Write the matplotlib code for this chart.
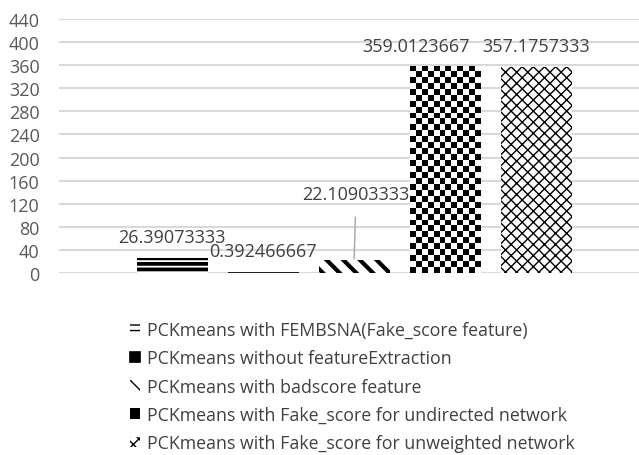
import matplotlib
matplotlib.use("Agg")
import matplotlib.pyplot as plt
import numpy as np

# Chart data
LABELS = [
    "PCKmeans with FEMBSNA(Fake_score feature)",
    "PCKmeans without featureExtraction",
    "PCKmeans with badscore feature",
    "PCKmeans with Fake_score for undirected network",
    "PCKmeans with Fake_score for unweighted network",
]
VALUES = [26.39073333, 0.392466667, 22.10903333, 359.0123667, 357.1757333]
VALUE_TEXT = ["26.39073333", "0.392466667", "22.10903333", "359.0123667", "357.1757333"]
Y_TICKS = [0, 40, 80, 120, 160, 200, 240, 280, 320, 360, 400, 440]

# Style
HATCHES = ["---", "", "\\\\", "", "xxx"]
HATCH_LW = [2.7, 1.0, 3.0, 1.0, 1.0]
LABEL_OFFSETS = [(0, 21), (0, 22), (2, 66), (-29, 20), (0, 21)]

plt.rcParams["font.family"] = ["Open Sans", "DejaVu Sans"]

fig = plt.figure(figsize=(6.39, 4.56), dpi=100)
ax = fig.add_axes([59 / 639, 182 / 456, 580 / 639, 254 / 456])

x = np.arange(len(VALUES))
bars = []
for i, v in enumerate(VALUES):
    fc = "black" if i == 1 else "white"
    b = ax.bar(x[i], v, width=0.78, color=fc, edgecolor="black",
               linewidth=1.2 if i == 1 else 0,
               hatch=HATCHES[i] or None, label=LABELS[i], zorder=3)[0]
    if hasattr(b, "set_hatch_linewidth"):
        b.set_hatch_linewidth(HATCH_LW[i])
    bars.append(b)

ax.set_xlim(-1.242, 5.13)
ax.set_ylim(0, 440)
ax.set_yticks(Y_TICKS)
ax.grid(axis="y", color="#d9d9d9", linewidth=1.5, zorder=0)
ax.set_xticks([])
ax.tick_params(axis="y", length=0, pad=14, labelsize=13, labelcolor="#595959")
for s in ax.spines.values():
    s.set_visible(False)

# checkerboard fill for the 4th bar
fig.canvas.draw()
b = bars[3]
x0, x1 = b.get_x(), b.get_x() + b.get_width()
p0 = ax.transData.transform((x0, 0))
p1 = ax.transData.transform((x1, b.get_height()))
ncol = max(1, int(round((p1[0] - p0[0]) / 6)))
nrow = max(1, int(round((p1[1] - p0[1]) / 6)))
board = np.indices((nrow, ncol)).sum(axis=0) % 2
im = ax.imshow(board, cmap="gray", extent=(x0, x1, 0, b.get_height()),
               aspect="auto", interpolation="nearest", zorder=4)
im.set_clip_path(b)
b.set_facecolor("black")

# data labels
for i, b in enumerate(bars):
    dx, dy = LABEL_OFFSETS[i]
    cx = b.get_x() + b.get_width() / 2
    if i == 2:
        ax.annotate(VALUE_TEXT[i], xy=(cx, VALUES[i]), xytext=(dx, dy),
                    textcoords="offset pixels", ha="center", va="center",
                    fontsize=13, color="#404040", zorder=5,
                    arrowprops=dict(arrowstyle="-", color="#a6a6a6", lw=1,
                                    shrinkA=8, shrinkB=1))
    else:
        ax.annotate(VALUE_TEXT[i], xy=(cx, VALUES[i]), xytext=(dx, dy),
                    textcoords="offset pixels", ha="center", va="center",
                    fontsize=13, color="#404040", zorder=5)

leg = fig.legend(handles=bars, labels=LABELS, loc="upper left",
                 bbox_to_anchor=(114 / 639, 1 - 306 / 456), frameon=False,
                 fontsize=12.8, labelcolor="#404040", handlelength=0.55,
                 handleheight=0.55, handletextpad=0.4, labelspacing=0.58)

fig.savefig("out.png", dpi=100)
